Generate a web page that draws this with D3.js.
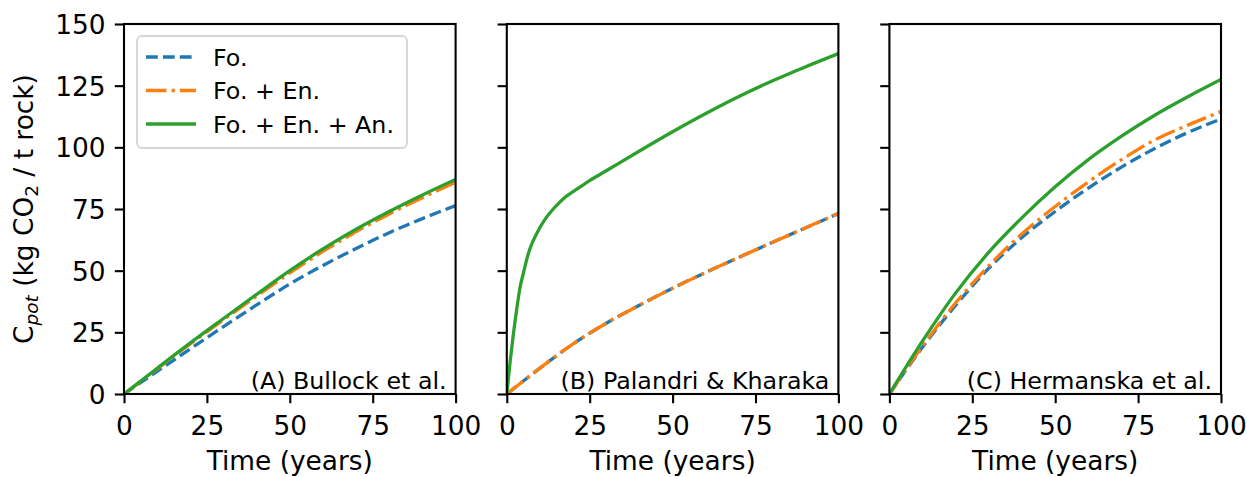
<!DOCTYPE html>
<html>
<head>
<meta charset="utf-8">
<script src="https://cdn.jsdelivr.net/npm/d3@7"></script>
<style>
  body { margin: 0; background: #fff; }
  svg { display: block; font-family: "DejaVu Sans", sans-serif; }
</style>
</head>
<body>
<div id="chart"></div>
<script>
// values (kg CO2 / t rock)
const years = [0, 10, 20, 30, 40, 50, 60, 70, 80, 90, 100];
const yearsFine = [0, 1, 2, 3, 4, 5, 6, 7, 8, 9, 10, 12, 14, 16, 18, 20, 25, 30, 40, 50, 60, 70, 80, 90, 100];

const bullockFo = [0, 9.2, 18.3, 27.3, 36.1, 44.6, 52.1, 59, 65.4, 71.1, 76.4];
const bullockFoEn = [0, 10.2, 20.3, 30.1, 39.7, 49.1, 57.8, 65.8, 73, 79.6, 85.8];
const bullockFoEnAn = [0, 10.4, 20.7, 30.6, 40.4, 50, 58.8, 66.8, 74, 80.7, 87];

const palandriFo = [0, 10.5, 20.3, 28.7, 36, 42.9, 49.3, 55.4, 61.4, 67.3, 73.2];
const palandriFoEn = [0, 10.5, 20.3, 28.7, 36, 42.9, 49.3, 55.4, 61.4, 67.3, 73.2];
const palandriFoEnAn = [0, 13, 24.5, 34.5, 43.3, 49, 54.5, 59, 62.3, 65, 67.5, 71.7, 75, 77.8, 80.2, 82, 86.5, 90.5, 98.5, 106.3, 113.7, 120.6, 126.9, 132.6, 138];

const hermanskaFo = [0, 19, 36, 51, 63.5, 74, 83.5, 92, 99.5, 106, 111.5];
const hermanskaFoEn = [0, 19.5, 37, 52, 65, 76, 86, 95, 103, 109, 114.5];
const hermanskaFoEnAn = [0, 21.5, 41, 57.5, 71.5, 84, 95, 104.5, 113, 120.5, 127.5];

const seriesNames = ["Fo.", "Fo. + En.", "Fo. + En. + An."];
const panelLabels = ["(A) Bullock et al.", "(B) Palandri & Kharaka", "(C) Hermanska et al."];
const xTicks = [0, 25, 50, 75, 100];
const yTicks = [0, 25, 50, 75, 100, 125, 150];

const colors = ["#1f77b4", "#ff7f0e", "#2ca02c"];
const dashes = ["11.8,5.1", "20.5,5.1,3.2,5.1", null];
const lw = 3.3;

const panels = [
  { label: panelLabels[0], series: [[years, bullockFo], [years, bullockFoEn], [years, bullockFoEnAn]] },
  { label: panelLabels[1], series: [[years, palandriFo], [years, palandriFoEn], [yearsFine, palandriFoEnAn]] },
  { label: panelLabels[2], series: [[years, hermanskaFo], [years, hermanskaFoEn], [years, hermanskaFoEnAn]] }
];

const width = 1247, height = 477;
const plotTop = 24, plotBottom = 394;
const lefts = [124, 506.8, 889.4];
const pw = 331.6;
const tickLen = 9.2, spineW = 2.1;

const svg = d3.select("#chart").append("svg")
  .attr("width", width)
  .attr("height", height);

const y = d3.scaleLinear().domain([0, 150]).range([plotBottom, plotTop]);

panels.forEach((p, i) => {
  const x = d3.scaleLinear().domain([0, 100]).range([lefts[i], lefts[i] + pw]);
  const g = svg.append("g");

  const clipId = "clip" + i;
  svg.append("clipPath").attr("id", clipId)
    .append("rect")
    .attr("x", lefts[i]).attr("y", plotTop)
    .attr("width", pw).attr("height", plotBottom - plotTop);

  const line = d3.line()
    .x(d => x(d[0]))
    .y(d => y(d[1]))
    .curve(d3.curveMonotoneX);

  p.series.forEach((s, k) => {
    const pts = s[0].map((t, j) => [t, s[1][j]]);
    g.append("path")
      .attr("clip-path", `url(#${clipId})`)
      .attr("d", line(pts))
      .attr("fill", "none")
      .attr("stroke", colors[k])
      .attr("stroke-width", lw)
      .attr("stroke-dasharray", dashes[k]);
  });

  // x axis
  const xa = g.append("g")
    .attr("transform", `translate(0,${plotBottom})`)
    .call(d3.axisBottom(x).tickValues(xTicks).tickSize(tickLen).tickSizeOuter(0));
  xa.select(".domain").remove();
  xa.selectAll("line").attr("stroke", "#000").attr("stroke-width", spineW);
  xa.selectAll("text")
    .attr("y", 41).attr("dy", null)
    .attr("fill", "#000")
    .attr("font-size", 26.4)
    .attr("font-family", "DejaVu Sans");

  // y axis
  const ya = g.append("g")
    .attr("transform", `translate(${lefts[i]},0)`)
    .call(d3.axisLeft(y).tickValues(yTicks).tickSize(tickLen).tickSizeOuter(0));
  ya.select(".domain").remove();
  ya.selectAll("line").attr("stroke", "#000").attr("stroke-width", spineW);
  ya.selectAll("text")
    .attr("x", -2 * tickLen)
    .attr("dy", "0.36em")
    .attr("fill", "#000")
    .attr("font-size", 26.4)
    .attr("font-family", "DejaVu Sans")
    .text(d => i === 0 ? d : "");

  // spines
  g.append("rect")
    .attr("x", lefts[i]).attr("y", plotTop)
    .attr("width", pw).attr("height", plotBottom - plotTop)
    .attr("fill", "none")
    .attr("stroke", "#000")
    .attr("stroke-width", spineW);

  g.append("text")
    .attr("x", lefts[i] + pw - 9)
    .attr("y", 389)
    .attr("text-anchor", "end")
    .attr("font-size", 23.75)
    .text(p.label);

  g.append("text")
    .attr("x", lefts[i] + pw / 2)
    .attr("y", 470)
    .attr("text-anchor", "middle")
    .attr("font-size", 26.4)
    .text("Time (years)");
});

// y label
const yl = svg.append("text")
  .attr("transform", "translate(33,209) rotate(-90)")
  .attr("text-anchor", "middle")
  .attr("font-size", 26.4);
yl.append("tspan").text("C");
yl.append("tspan").attr("font-size", 18.5).attr("font-style", "italic").attr("dy", 5).text("pot");
yl.append("tspan").attr("dy", -5).text(" (kg CO");
yl.append("tspan").attr("font-size", 18.5).attr("dy", 5).text("2");
yl.append("tspan").attr("dy", -5).text(" / t rock)");

// legend
const lg = svg.append("g");
lg.append("rect")
  .attr("x", 137).attr("y", 36)
  .attr("width", 270).attr("height", 112)
  .attr("rx", 5)
  .attr("fill", "#fff").attr("fill-opacity", 0.8)
  .attr("stroke", "#d6d6d6").attr("stroke-width", 2);
const rowY = d3.scalePoint().domain(seriesNames).range([57, 124]);
seriesNames.forEach((name, k) => {
  lg.append("line")
    .attr("x1", 146).attr("x2", 196)
    .attr("y1", rowY(name)).attr("y2", rowY(name))
    .attr("stroke", colors[k])
    .attr("stroke-width", lw)
    .attr("stroke-dasharray", dashes[k]);
  lg.append("text")
    .attr("x", 213).attr("y", rowY(name))
    .attr("dy", "0.36em")
    .attr("font-size", 23.75)
    .text(name);
});
</script>
</body>
</html>
